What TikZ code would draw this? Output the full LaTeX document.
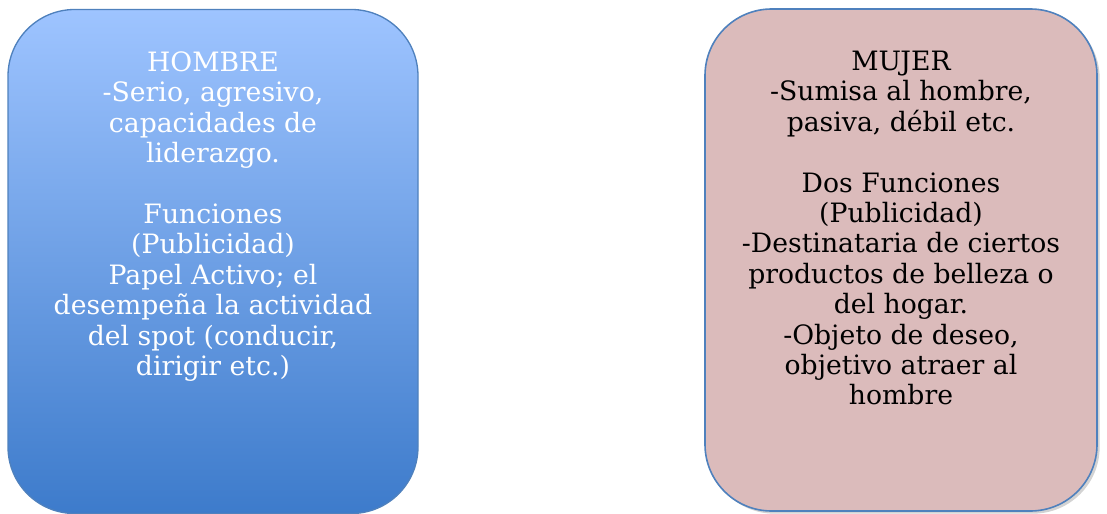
\documentclass[tikz,border=0pt]{standalone}
\usepackage{fontspec}
\setmainfont{DejaVu Serif}
\usetikzlibrary{positioning,shadows}

\definecolor{boxblue}{HTML}{4F81BD}
\definecolor{hombretop}{HTML}{9EC4FF}
\definecolor{hombrebottom}{HTML}{3D7BCB}
\definecolor{mujerfill}{HTML}{DBBBBB}

\begin{document}
\begin{tikzpicture}[
    x=0.75pt,
    y=-0.75pt,
    box/.style={rectangle,rounded corners=50pt,draw=boxblue,line width=1pt},
    hombre box/.style={box,top color=hombretop,bottom color=hombrebottom,minimum width=307.5pt,minimum height=378pt},
    mujer box/.style={box,fill=mujerfill,line width=1.2pt,minimum width=294pt,minimum height=376.5pt,
        drop shadow={shadow xshift=2pt,shadow yshift=-2pt,opacity=0.35}},
    box text/.style={align=center,font=\fontsize{20}{22.8}\selectfont,inner sep=0pt}
]

\useasboundingbox (0,0) rectangle (1107,514);

% Hombre
\node[hombre box] (hombre) at (213,261.5) {};
\node[box text, text=white, below=32pt of hombre.north] (hombretext) {HOMBRE\\
-Serio, agresivo,\\ capacidades de\\ liderazgo.\\[22.8pt]
Funciones\\ (Publicidad)\\ Papel Activo; el\\ desempeña la actividad\\ del spot (conducir,\\ dirigir etc.)};

% Mujer
\node[mujer box] (mujer) at (901,260) {};
\node[box text, below=32pt of mujer.north] (mujertext) {MUJER\\
-Sumisa al hombre,\\ pasiva, débil etc.\\[22.8pt]
Dos Funciones\\ (Publicidad)\\ -Destinataria de ciertos\\ productos de belleza o\\ del hogar.\\
-Objeto de deseo,\\ objetivo atraer al\\ hombre};

\end{tikzpicture}
\end{document}
